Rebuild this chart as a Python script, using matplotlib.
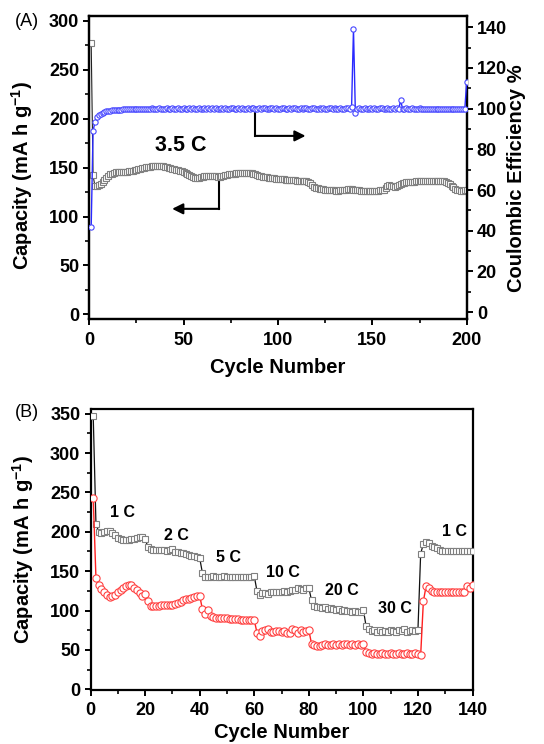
import matplotlib
matplotlib.use("Agg")
import matplotlib.pyplot as plt
from matplotlib.ticker import MultipleLocator

plt.rcParams['font.family'] = ['Liberation Sans', 'DejaVu Sans']
plt.rcParams['font.weight'] = 'bold'
plt.rcParams['mathtext.fontset'] = 'custom'
plt.rcParams['mathtext.rm'] = 'Liberation Sans:bold'
plt.rcParams['mathtext.bf'] = 'Liberation Sans:bold'
plt.rcParams['mathtext.it'] = 'Liberation Sans:bold'

# ---------------- Panel A data ----------------
cycles_a = list(range(1, 201))
capacity_a = [
    277, 142, 131, 131, 132, 133, 135, 137, 139, 141,
    143, 144, 145, 145.5, 146, 146, 145.5, 145.5, 146, 146,
    146.5, 147, 147, 147.5, 148, 148.5, 149, 149.5, 150, 150.5,
    151, 151, 151.5, 152, 152, 152, 152, 152, 151.5, 151,
    150.5, 150, 149.5, 149, 148.5, 148, 147.5, 147, 146.5, 146,
    145, 144, 142.5, 141, 140, 139.5, 139, 139.5, 140, 140.5,
    141, 141, 141, 141, 141, 141, 141, 140.5, 140.5, 141,
    141.5, 142, 142.5, 143, 143.5, 144, 144, 144.5, 144.5, 145,
    145, 145, 145, 145, 144.5, 144.5, 144, 143.5, 142.5, 141.5,
    141, 140.5, 140, 140, 139.5, 139.5, 139, 139, 138.5, 138.5,
    138, 138, 138, 137.5, 137.5, 137, 137, 137, 137, 136.5,
    136.5, 136.5, 136, 136, 136, 135.5, 134, 132, 130.5, 129.5,
    129, 128.5, 128, 128, 127.5, 127.5, 127, 127, 127, 127,
    126.5, 126.5, 127, 127, 127, 127, 128, 128.5, 128, 127,
    127, 127, 127, 126.5, 126.5, 126.5, 126.5, 126.5, 126.5, 126.5,
    126.5, 126.5, 126.5, 127, 127, 127.5, 129, 131, 132, 131.5,
    131, 130.5, 131.5, 132.5, 133.5, 134, 134.5, 135, 135, 135.5,
    135.5, 135.5, 136, 136, 136, 136, 136, 136, 136, 136,
    136, 136, 136, 136, 136, 136, 136, 136, 135.5, 134.5,
    133, 131.5, 130, 128.5, 127.5, 127, 126.5, 126.5, 127, 127,
]
efficiency_a = [
    42, 89, 93.5, 96, 97, 97.5, 98, 98.3, 98.6, 98.8,
    99.0, 99.1, 99.2, 99.3, 99.4, 99.5, 99.5, 99.6, 99.6, 99.7,
    99.7, 99.8, 99.8, 99.7, 99.9, 99.8, 99.9, 100.0, 99.8, 99.9,
    100.0, 99.9, 100.1, 99.9, 100.0, 99.8, 100.1, 100.0, 99.9, 100.0,
    100.1, 99.9, 100.0, 100.2, 99.9, 100.0, 100.1, 99.9, 100.0, 100.1,
    100.0, 99.9, 100.1, 100.0, 100.2, 99.9, 100.0, 100.1, 100.0, 99.9,
    100.1, 100.0, 100.2, 99.9, 100.1, 100.0, 100.1, 99.9, 100.0, 100.2,
    100.0, 100.1, 99.9, 100.0, 100.1, 100.2, 99.9, 100.0, 100.1, 100.0,
    100.2, 100.0, 99.9, 100.1, 100.0, 100.2, 100.1, 99.9, 100.0, 100.1,
    100.0, 100.2, 100.1, 100.0, 99.9, 100.1, 100.2, 100.0, 100.1, 99.9,
    100.0, 100.1, 100.2, 100.0, 99.9, 100.1, 100.0, 100.2, 100.1, 100.0,
    99.9, 100.1, 100.0, 100.2, 100.1, 99.9, 100.0, 100.1, 100.2, 100.0,
    99.9, 100.1, 100.0, 100.2, 100.0, 99.9, 100.1, 100.2, 100.0, 100.1,
    99.9, 100.0, 100.1, 100.0, 99.9, 100.2, 100.1, 100.0, 101.0, 139.0,
    98.0, 99.9, 100.1, 100.0, 99.8, 100.1, 100.0, 99.9, 100.2, 100.0,
    100.1, 99.9, 100.0, 100.2, 100.1, 99.9, 100.0, 100.1, 100.0, 99.9,
    100.1, 100.0, 100.2, 100.0, 104.0, 100.0, 99.9, 100.1, 100.0, 99.8,
    100.1, 100.0, 99.9, 100.0, 100.1, 99.9, 100.0, 99.8, 100.0, 99.9,
    100.0, 99.8, 99.9, 100.0, 99.8, 99.9, 99.8, 100.0, 99.9, 99.8,
    99.9, 100.0, 99.8, 99.9, 99.8, 100.0, 99.9, 99.8, 100.0, 113.0,
]

# ---------------- Panel B data ----------------
cycles_b = list(range(1, 141))
charge_b = [
    347, 210, 200, 199, 200, 201, 201, 199, 196, 192,
    191, 190, 190, 190, 191, 191, 192, 193, 193, 191,
    181, 178, 177, 177, 177, 177, 177, 176, 177, 178,
    174, 174, 173, 173, 172, 170, 169, 169, 168, 167,
    148, 143, 143, 143, 144, 143, 143, 143, 144, 143,
    143, 143, 143, 143, 143, 143, 143, 143, 143, 144,
    125, 120, 122, 122, 121, 123, 123, 124, 123, 124,
    125, 124, 125, 126, 126, 128, 127, 126, 128, 129,
    113, 106, 104, 104, 103, 104, 102, 103, 102, 101,
    102, 100, 101, 99, 99, 98, 99, 98, 98, 101,
    80, 76, 74, 75, 73, 75, 73, 74, 73, 75,
    74, 73, 75, 74, 76, 73, 74, 75, 74, 75,
    172, 185, 187, 186, 182, 181, 179, 177, 176, 176,
    175, 175, 175, 175, 175, 175, 175, 175, 175, 175,
]
discharge_b = [
    243, 141, 132, 127, 123, 120, 117, 118, 120, 123,
    126, 129, 131, 133, 132, 128, 126, 122, 119, 121,
    112, 106, 106, 106, 106, 107, 107, 107, 107, 107,
    108, 110, 111, 113, 114, 115, 116, 117, 118, 119,
    102, 95, 101, 93, 92, 91, 91, 90, 90, 90,
    89, 89, 89, 89, 88, 88, 88, 88, 88, 88,
    72, 68, 74, 75, 76, 73, 73, 74, 74, 73,
    74, 71, 72, 76, 75, 72, 75, 73, 74, 75,
    58, 56, 55, 55, 56, 57, 56, 56, 57, 56,
    57, 56, 58, 57, 56, 58, 56, 57, 56, 58,
    47, 46, 45, 46, 45, 45, 46, 45, 45, 46,
    45, 45, 46, 45, 45, 46, 45, 45, 46, 45,
    43, 112, 131, 129, 125, 124, 124, 124, 124, 124,
    124, 124, 124, 124, 124, 124, 124, 131, 128, 133,
]
rate_labels_b = ["1 C", "2 C", "5 C", "10 C", "20 C", "30 C", "1 C"]
rate_label_pos_b = [(11.6, 224), (31.4, 195), (50.5, 167), (70.6, 148),
                    (92.3, 126), (111.7, 102), (133.4, 201)]

W, H = 544, 744
fig = plt.figure(figsize=(W / 100, H / 100), dpi=100)

def ax_rect(l, t, r, b):
    return [l / W, 1 - b / H, (r - l) / W, (b - t) / H]

TICK_FS = 13
LABEL_FS = 14.5

def style_axis(ax):
    for s in ax.spines.values():
        s.set_linewidth(1.6)
    ax.tick_params(which='major', direction='out', length=4.3, width=1.4,
                   labelsize=TICK_FS)
    ax.tick_params(which='minor', direction='out', length=2.6, width=1.2)
    ax.tick_params(axis='x', which='major', pad=4.5)
    ax.tick_params(axis='y', which='major', pad=3)
    for lab in ax.get_xticklabels() + ax.get_yticklabels():
        lab.set_fontweight('bold')

# ---------------- Panel A ----------------
axA = fig.add_axes(ax_rect(89.3, 16, 466.7, 319.3))
axA2 = axA.twinx()

axA.plot(cycles_a, capacity_a, color='#222222', lw=0.8, marker='s', ms=3.8,
         mfc='white', mec='#808080', mew=0.8, zorder=3)
axA2.plot(cycles_a, efficiency_a, color='#2a2aff', lw=1.0, marker='o', ms=3.8,
          mfc='white', mec='#4646ff', mew=0.8, zorder=3)

axA.set_xlim(0, 200)
axA.set_ylim(-5, 305)
axA2.set_ylim(-3.5, 145.5)
axA.xaxis.set_major_locator(MultipleLocator(50))
axA.xaxis.set_minor_locator(MultipleLocator(25))
axA.yaxis.set_major_locator(MultipleLocator(50))
axA.yaxis.set_minor_locator(MultipleLocator(25))
axA2.yaxis.set_major_locator(MultipleLocator(20))
axA2.yaxis.set_minor_locator(MultipleLocator(10))
axA.tick_params(top=False, right=False, which='both')
style_axis(axA)
style_axis(axA2)
axA2.tick_params(left=False, which='both')

axA.set_xlabel('Cycle Number', fontsize=LABEL_FS, fontweight='bold')
axA.set_ylabel(r'Capacity (mA h g$^{-1}$)', fontsize=LABEL_FS, fontweight='bold')
axA2.set_ylabel('Coulombic Efficiency %', fontsize=LABEL_FS, fontweight='bold')
axA.xaxis.set_label_coords(0.5, -0.128)
axA.yaxis.set_label_coords(-0.145, 0.475)
axA2.yaxis.set_label_coords(1.108, 0.465)

axA.text(48.6, 172.4, '3.5 C', fontsize=15.5, fontweight='bold',
         ha='center', va='center')

# arrows
axA2.plot([87.9, 87.9], [98.3, 86.6], color='k', lw=1.5)
axA2.annotate('', xy=(114.6, 86.6), xytext=(87.9, 86.6),
              arrowprops=dict(arrowstyle='-|>', color='k', lw=1.5,
                              mutation_scale=16, shrinkA=0, shrinkB=0))
axA.plot([68.8, 68.8], [139.3, 107.9], color='k', lw=1.5)
axA.annotate('', xy=(43.9, 107.9), xytext=(68.8, 107.9),
             arrowprops=dict(arrowstyle='-|>', color='k', lw=1.5,
                             mutation_scale=16, shrinkA=0, shrinkB=0))

# ---------------- Panel B ----------------
axB = fig.add_axes(ax_rect(90.5, 409, 472.5, 690))
axB.plot(cycles_b, charge_b, color='#111111', lw=0.9, marker='s', ms=4.2,
         mfc='white', mec='#808080', mew=0.8, zorder=3)
axB.plot(cycles_b, discharge_b, color='#ff2020', lw=1.0, marker='o', ms=5.2,
         mfc='white', mec='#ff4040', mew=0.8, zorder=4)
axB.set_xlim(0, 140)
axB.set_ylim(-1, 356)
axB.xaxis.set_major_locator(MultipleLocator(20))
axB.xaxis.set_minor_locator(MultipleLocator(10))
axB.yaxis.set_major_locator(MultipleLocator(50))
axB.yaxis.set_minor_locator(MultipleLocator(25))
style_axis(axB)
axB.set_xlabel('Cycle Number', fontsize=LABEL_FS, fontweight='bold')
axB.set_ylabel(r'Capacity (mA h g$^{-1}$)', fontsize=LABEL_FS, fontweight='bold')
axB.xaxis.set_label_coords(0.5, -0.118)
axB.yaxis.set_label_coords(-0.143, 0.5)

for lab, (x, y) in zip(rate_labels_b, rate_label_pos_b):
    axB.text(x, y, lab, fontsize=11.5, fontweight='bold', ha='center', va='center')

fig.text(27 / W, 1 - 22 / H, '(A)', fontsize=13, fontweight='normal',
         ha='center', va='center')
fig.text(27 / W, 1 - 413 / H, '(B)', fontsize=13, fontweight='normal',
         ha='center', va='center')

fig.savefig('out.png', dpi=100)
